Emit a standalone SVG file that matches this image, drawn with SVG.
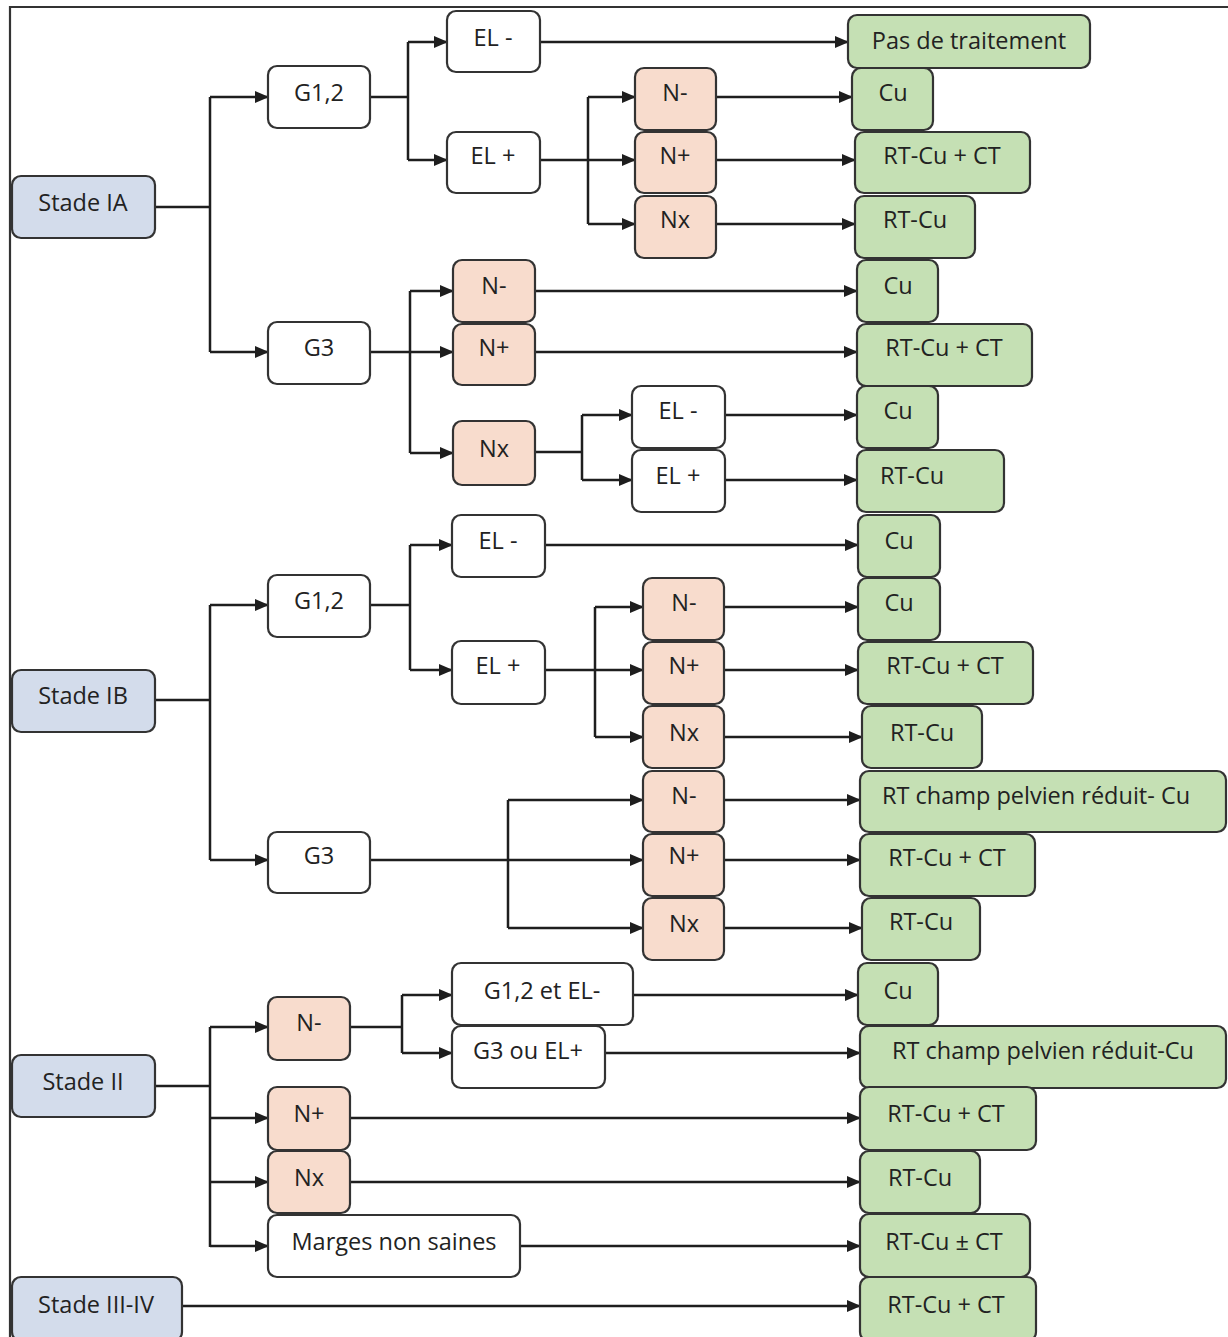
<svg xmlns="http://www.w3.org/2000/svg" width="1228" height="1337" viewBox="0 0 1228 1337">
<style>
.b{stroke:#333;stroke-width:2.2}
.w{fill:#fff}
.s{fill:#d3dceb}
.n{fill:#f8dccd}
.g{fill:#c5e0b4}
text{font-family:"Open Sans","Liberation Sans",sans-serif;font-size:23.5px;fill:#222;text-anchor:middle}
.c path{fill:none;stroke:#1e1e1e;stroke-width:2.5}
.c path.a{marker-end:url(#ah)}
</style>
<defs>
<marker id="ah" markerWidth="14" markerHeight="12" refX="13" refY="6" orient="auto" markerUnits="userSpaceOnUse"><path d="M0,0 L14,6 L0,12 z" fill="#1e1e1e" stroke="none"/></marker>
</defs>
<rect width="1228" height="1337" fill="#fff"/>
<path d="M10,1340 V7 H1230" fill="none" stroke="#333" stroke-width="2.2"/>
<g class="c" id="connectors">
<path d="M155,207 H210 M210,97 V352"/>
<path d="M370,97 H408 M408,42 V160"/>
<path d="M540,160 H588 M588,97 V224"/>
<path d="M370,352 H410 M410,291 V453"/>
<path d="M535,452 H582 M582,415 V480"/>
<path d="M155,700 H210 M210,605 V860"/>
<path d="M370,605 H410 M410,545 V670"/>
<path d="M545,670 H595 M595,607 V737"/>
<path d="M370,860 H508 M508,800 V928"/>
<path d="M155,1086 H210 M210,1027 V1247"/>
<path d="M350,1027 H402 M402,995 V1053"/>
<path class="a" d="M210,97 H268"/>
<path class="a" d="M210,352 H268"/>
<path class="a" d="M408,42 H447"/>
<path class="a" d="M408,160 H447"/>
<path class="a" d="M540,42 H848"/>
<path class="a" d="M588,97 H635"/>
<path class="a" d="M588,160 H635"/>
<path class="a" d="M588,224 H635"/>
<path class="a" d="M716,97 H852"/>
<path class="a" d="M716,160 H855"/>
<path class="a" d="M716,224 H855"/>
<path class="a" d="M410,291 H453"/>
<path class="a" d="M410,352 H453"/>
<path class="a" d="M410,453 H453"/>
<path class="a" d="M535,291 H857"/>
<path class="a" d="M535,352 H857"/>
<path class="a" d="M582,415 H632"/>
<path class="a" d="M582,480 H632"/>
<path class="a" d="M725,415 H857"/>
<path class="a" d="M725,480 H857"/>
<path class="a" d="M210,605 H268"/>
<path class="a" d="M210,860 H268"/>
<path class="a" d="M410,545 H452"/>
<path class="a" d="M410,670 H452"/>
<path class="a" d="M545,545 H858"/>
<path class="a" d="M595,607 H643"/>
<path class="a" d="M595,670 H643"/>
<path class="a" d="M595,737 H643"/>
<path class="a" d="M724,607 H858"/>
<path class="a" d="M724,670 H858"/>
<path class="a" d="M724,737 H862"/>
<path class="a" d="M508,800 H643"/>
<path class="a" d="M508,860 H643"/>
<path class="a" d="M508,928 H643"/>
<path class="a" d="M724,800 H860"/>
<path class="a" d="M724,860 H860"/>
<path class="a" d="M724,928 H862"/>
<path class="a" d="M210,1027 H268"/>
<path class="a" d="M210,1118 H268"/>
<path class="a" d="M210,1182 H268"/>
<path class="a" d="M210,1246 H268"/>
<path class="a" d="M402,995 H452"/>
<path class="a" d="M402,1053 H452"/>
<path class="a" d="M633,995 H858"/>
<path class="a" d="M605,1053 H860"/>
<path class="a" d="M350,1118 H860"/>
<path class="a" d="M350,1182 H860"/>
<path class="a" d="M520,1246 H860"/>
<path class="a" d="M182,1306 H860"/>
</g>
<!-- Stade IA -->
<g id="stadeIA"><rect class="b s" x="12" y="176" width="143" height="62" rx="9"/><text x="83" y="211">Stade IA</text></g>
<g id="ia_g12"><rect class="b w" x="268" y="66" width="102" height="62" rx="9"/><text x="319" y="101">G1,2</text></g>
<g id="ia_g12_elm"><rect class="b w" x="447" y="11" width="93" height="61" rx="9"/><text x="493" y="46">EL -</text></g>
<g id="ia_g12_elp"><rect class="b w" x="447" y="132" width="93" height="61" rx="9"/><text x="493" y="164">EL +</text></g>
<g id="ia_pas"><rect class="b g" x="848" y="15" width="242" height="53" rx="9"/><text x="969" y="49">Pas de traitement</text></g>
<g id="ia_nm1"><rect class="b n" x="635" y="68" width="81" height="62" rx="9"/><text x="675" y="101">N-</text></g>
<g id="ia_np1"><rect class="b n" x="635" y="132" width="81" height="61" rx="9"/><text x="675" y="164">N+</text></g>
<g id="ia_nx1"><rect class="b n" x="635" y="196" width="81" height="62" rx="9"/><text x="675" y="228">Nx</text></g>
<g id="ia_cu1"><rect class="b g" x="852" y="68" width="81" height="62" rx="9"/><text x="893" y="101">Cu</text></g>
<g id="ia_rtct1"><rect class="b g" x="855" y="132" width="175" height="61" rx="9"/><text x="942" y="164">RT-Cu + CT</text></g>
<g id="ia_rt1"><rect class="b g" x="855" y="196" width="120" height="62" rx="9"/><text x="915" y="228">RT-Cu</text></g>
<g id="ia_g3"><rect class="b w" x="268" y="322" width="102" height="62" rx="9"/><text x="319" y="356">G3</text></g>
<g id="ia_nm2"><rect class="b n" x="453" y="260" width="82" height="62" rx="9"/><text x="494" y="294">N-</text></g>
<g id="ia_np2"><rect class="b n" x="453" y="324" width="82" height="61" rx="9"/><text x="494" y="356">N+</text></g>
<g id="ia_nx2"><rect class="b n" x="453" y="421" width="82" height="64" rx="9"/><text x="494" y="457">Nx</text></g>
<g id="ia_cu2"><rect class="b g" x="857" y="260" width="81" height="62" rx="9"/><text x="898" y="294">Cu</text></g>
<g id="ia_rtct2"><rect class="b g" x="857" y="324" width="175" height="62" rx="9"/><text x="944" y="356">RT-Cu + CT</text></g>
<g id="ia_elm2"><rect class="b w" x="632" y="386" width="93" height="62" rx="9"/><text x="678" y="419">EL -</text></g>
<g id="ia_elp2"><rect class="b w" x="632" y="450" width="93" height="62" rx="9"/><text x="678" y="484">EL +</text></g>
<g id="ia_cu3"><rect class="b g" x="857" y="386" width="81" height="62" rx="9"/><text x="898" y="419">Cu</text></g>
<g id="ia_rt3"><rect class="b g" x="857" y="450" width="147" height="62" rx="9"/><text x="912" y="484">RT-Cu</text></g>
<!-- Stade IB -->
<g id="stadeIB"><rect class="b s" x="12" y="670" width="143" height="62" rx="9"/><text x="83" y="704">Stade IB</text></g>
<g id="ib_g12"><rect class="b w" x="268" y="575" width="102" height="62" rx="9"/><text x="319" y="609">G1,2</text></g>
<g id="ib_elm"><rect class="b w" x="452" y="515" width="93" height="62" rx="9"/><text x="498" y="549">EL -</text></g>
<g id="ib_elp"><rect class="b w" x="452" y="641" width="93" height="63" rx="9"/><text x="498" y="674">EL +</text></g>
<g id="ib_cu1"><rect class="b g" x="858" y="515" width="82" height="62" rx="9"/><text x="899" y="549">Cu</text></g>
<g id="ib_nm1"><rect class="b n" x="643" y="578" width="81" height="62" rx="9"/><text x="684" y="611">N-</text></g>
<g id="ib_np1"><rect class="b n" x="643" y="642" width="81" height="62" rx="9"/><text x="684" y="674">N+</text></g>
<g id="ib_nx1"><rect class="b n" x="643" y="706" width="81" height="62" rx="9"/><text x="684" y="741">Nx</text></g>
<g id="ib_cu2"><rect class="b g" x="858" y="578" width="82" height="62" rx="9"/><text x="899" y="611">Cu</text></g>
<g id="ib_rtct1"><rect class="b g" x="858" y="642" width="175" height="62" rx="9"/><text x="945" y="674">RT-Cu + CT</text></g>
<g id="ib_rt1"><rect class="b g" x="862" y="706" width="120" height="62" rx="9"/><text x="922" y="741">RT-Cu</text></g>
<g id="ib_g3"><rect class="b w" x="268" y="832" width="102" height="61" rx="9"/><text x="319" y="864">G3</text></g>
<g id="ib_nm2"><rect class="b n" x="643" y="771" width="81" height="61" rx="9"/><text x="684" y="804">N-</text></g>
<g id="ib_np2"><rect class="b n" x="643" y="834" width="81" height="62" rx="9"/><text x="684" y="864">N+</text></g>
<g id="ib_nx2"><rect class="b n" x="643" y="898" width="81" height="62" rx="9"/><text x="684" y="932">Nx</text></g>
<g id="ib_rtch"><rect class="b g" x="860" y="771" width="366" height="61" rx="9"/><text x="1036" y="804">RT champ pelvien réduit- Cu</text></g>
<g id="ib_rtct2"><rect class="b g" x="860" y="834" width="175" height="62" rx="9"/><text x="947" y="866">RT-Cu + CT</text></g>
<g id="ib_rt2"><rect class="b g" x="862" y="898" width="118" height="62" rx="9"/><text x="921" y="930">RT-Cu</text></g>
<!-- Stade II -->
<g id="stadeII"><rect class="b s" x="12" y="1055" width="143" height="62" rx="9"/><text x="83" y="1090">Stade II</text></g>
<g id="ii_nm"><rect class="b n" x="268" y="997" width="82" height="63" rx="9"/><text x="309" y="1031">N-</text></g>
<g id="ii_np"><rect class="b n" x="268" y="1087" width="82" height="63" rx="9"/><text x="309" y="1122">N+</text></g>
<g id="ii_nx"><rect class="b n" x="268" y="1151" width="82" height="62" rx="9"/><text x="309" y="1186">Nx</text></g>
<g id="ii_marg"><rect class="b w" x="268" y="1215" width="252" height="62" rx="9"/><text x="394" y="1250">Marges non saines</text></g>
<g id="ii_g12el"><rect class="b w" x="452" y="963" width="181" height="62" rx="9"/><text x="542" y="999">G1,2 et EL-</text></g>
<g id="ii_g3el"><rect class="b w" x="452" y="1026" width="153" height="62" rx="9"/><text x="528" y="1059">G3 ou EL+</text></g>
<g id="ii_cu"><rect class="b g" x="858" y="963" width="80" height="62" rx="9"/><text x="898" y="999">Cu</text></g>
<g id="ii_rtch"><rect class="b g" x="860" y="1026" width="366" height="62" rx="9"/><text x="1043" y="1059">RT champ pelvien réduit-Cu</text></g>
<g id="ii_rtct"><rect class="b g" x="860" y="1087" width="176" height="63" rx="9"/><text x="946" y="1122">RT-Cu + CT</text></g>
<g id="ii_rt"><rect class="b g" x="860" y="1151" width="120" height="62" rx="9"/><text x="920" y="1186">RT-Cu</text></g>
<g id="ii_rtpm"><rect class="b g" x="860" y="1214" width="170" height="63" rx="9"/><text x="944" y="1250">RT-Cu ± CT</text></g>
<!-- Stade III-IV -->
<g id="stadeIII"><rect class="b s" x="12" y="1277" width="170" height="64" rx="9"/><text x="96" y="1313">Stade III-IV</text></g>
<g id="iii_rtct"><rect class="b g" x="860" y="1277" width="176" height="64" rx="9"/><text x="946" y="1313">RT-Cu + CT</text></g>
</svg>
